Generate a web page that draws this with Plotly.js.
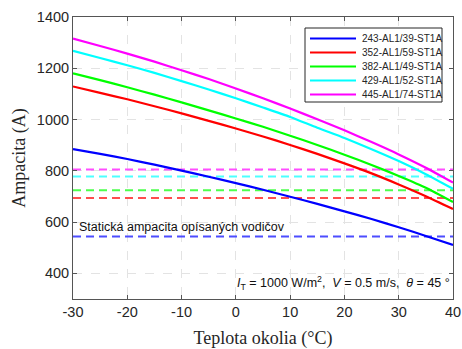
<!DOCTYPE html>
<html><head><meta charset="utf-8">
<script src="https://cdn.plot.ly/plotly-3.0.1.min.js"></script>
<style>html,body{margin:0;padding:0;background:#fff}#chart{width:462px;height:349px}</style>
</head><body><div id="chart"></div>
<script>
const temps = [-30,-25,-20,-15,-10,-5,0,5,10,15,20,25,30,35,40];
const conductors = ['243-AL1/39-ST1A','352-AL1/59-ST1A','382-AL1/49-ST1A','429-AL1/52-ST1A','445-AL1/74-ST1A'];
const amp243 = [885,866,846,824,801,777,752,726,699,671,642,612,580,546,511];
const amp352 = [1129,1104,1079,1052,1024,995,965,934,901,866,829,790,747,701,651];
const amp382 = [1180,1154,1126,1097,1067,1036,1004,972,937,901,863,823,780,734,678];
const amp429 = [1268,1240,1212,1182,1150,1117,1083,1047,1010,968,928,884,838,787,730];
const amp445 = [1316,1287,1257,1226,1192,1158,1121,1083,1043,1001,958,912,864,812,754];
const staticAmp = [544,694,724,778,805];
const xTicks = [-30,-20,-10,0,10,20,30,40];
const yTicks = [400,600,800,1000,1200,1400];
const colors = ['#0000ff','#ff0000','#00ff00','#00ffff','#ff00ff'];
const dashColors = ['#4d4dff','#ff4d4d','#4dff4d','#4dffff','#ff4dff'];
const staticLabel = 'Statická ampacita opísaných vodičov';
const condLabel = '<i>I</i><sub>T</sub> = 1000 W/m<sup>2</sup>,\u00a0\u00a0<i>V</i> = 0.5 m/s,\u00a0\u00a0<i>θ</i> = 45 °';

const series = [amp243, amp352, amp382, amp429, amp445];
const xEnds = [temps[0], temps[temps.length-1]];

const traces = [];
series.forEach((s,i)=>{
  traces.push({x: xEnds, y: [staticAmp[i], staticAmp[i]], mode:'lines', showlegend:false, hoverinfo:'skip',
    line:{color: dashColors[i], width:2, dash:'8px,5px'}});
});
series.forEach((s,i)=>{
  traces.push({x: temps, y: s, mode:'lines', name: conductors[i], showlegend:false,
    line:{color: colors[i], width:2.2, shape:'spline', smoothing:0.6}});
});

// manual legend (layout only)
const plotL = 73, plotR = 453, plotT = 17, plotB = 299;
const px = v => (v - plotL)/(plotR - plotL);
const py = v => (plotB - v)/(plotB - plotT);
const shapes = [{type:'rect', xref:'paper', yref:'paper', x0:px(305), x1:px(442), y0:py(102), y1:py(28),
  line:{color:'#262626', width:1}, fillcolor:'#ffffff', layer:'above'}];
const annotations = [];
conductors.forEach((c,i)=>{
  const yy = 38.5 + 14*i;
  shapes.push({type:'line', xref:'paper', yref:'paper', x0:px(310), x1:px(356), y0:py(yy), y1:py(yy),
    line:{color: colors[i], width:2.2}, layer:'above'});
  annotations.push({xref:'paper', yref:'paper', x:px(360), y:py(yy), text:c, showarrow:false,
    xanchor:'left', yanchor:'middle', font:{family:'Liberation Sans, Arial', size:10, color:'#262626'}});
});
annotations.push({xref:'paper', yref:'paper', x:px(77), y:py(227), text: staticLabel, showarrow:false,
  xanchor:'left', yanchor:'middle', font:{family:'Liberation Sans, Arial', size:12.5, color:'#111'}});
annotations.push({xref:'paper', yref:'paper', x:px(452), y:py(283), text: condLabel, showarrow:false,
  xanchor:'right', yanchor:'middle', font:{family:'Liberation Sans, Arial', size:12.5, color:'#111'}});

const axCommon = {
  showline:true, mirror:'ticks', linecolor:'#555', linewidth:1,
  ticks:'inside', ticklen:4, tickcolor:'#555',
  showgrid:true, gridcolor:'#e3e3e3', griddash:'dash', gridwidth:1, zeroline:false,
  tickfont:{family:'Liberation Sans, Arial', size:14.5, color:'#262626'}
};
const layout = {
  width:462, height:349, margin:{l:73, r:9, t:17, b:50},
  paper_bgcolor:'#fff', plot_bgcolor:'#fff', showlegend:false,
  xaxis: Object.assign({}, axCommon, {range:[-30,40], tickvals:xTicks, ticktext:xTicks.map(String), automargin:false,
    title:{text:'Teplota okolia (°C)', font:{family:'Liberation Serif, Times New Roman', size:18, color:'#262626'}, standoff:16}}),
  yaxis: Object.assign({}, axCommon, {range:[300,1400], tickvals:yTicks, ticktext:yTicks.map(String), automargin:false,
    title:{text:'Ampacita (A)', font:{family:'Liberation Serif, Times New Roman', size:18, color:'#262626'}, standoff:6}}),
  shapes: shapes, annotations: annotations
};
Plotly.newPlot('chart', traces, layout, {staticPlot:true, displayModeBar:false});
</script></body></html>
